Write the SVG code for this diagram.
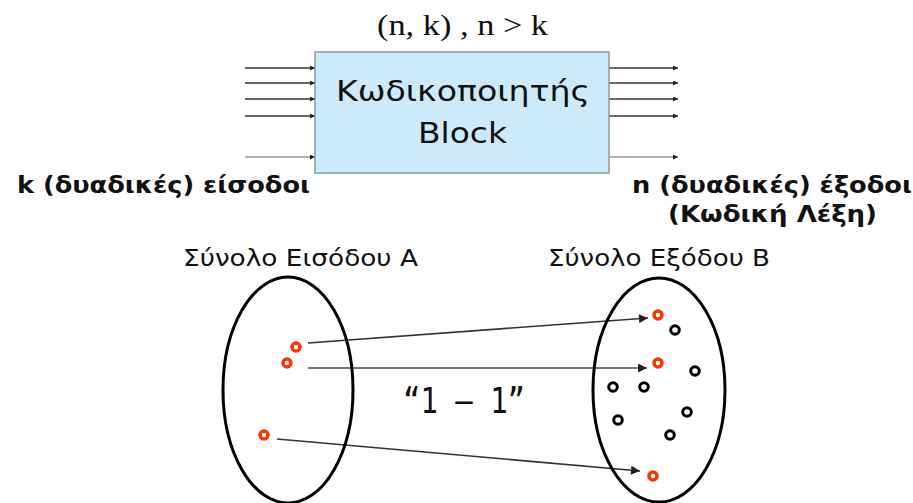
<svg xmlns="http://www.w3.org/2000/svg" width="913" height="503" viewBox="0 0 913 503">
<defs>
<style>
.sans{font-family:"DejaVu Sans","Noto Sans",sans-serif;fill:#111}
.bold{font-family:"DejaVu Sans","Noto Sans",sans-serif;font-weight:bold;fill:#111}
.ln{stroke:#333;stroke-width:1.6;fill:none}
.lg{stroke:#999;stroke-width:1.6;fill:none}
.red{fill:none;stroke:#ff3300;stroke-width:3.5}
.blk{fill:none;stroke:#000;stroke-width:3}
.ell{fill:none;stroke:#000;stroke-width:3}
</style>
<marker id="ah" viewBox="0 0 10 10" refX="10" refY="5" markerWidth="5" markerHeight="5" orient="auto" markerUnits="userSpaceOnUse">
<path d="M0,0 L10,5 L0,10 z" fill="#222"/>
</marker>
<marker id="ah2" viewBox="0 0 10 10" refX="10" refY="5" markerWidth="12" markerHeight="9" orient="auto" markerUnits="userSpaceOnUse">
<path d="M0,0 L10,5 L0,10 z" fill="#222"/>
</marker>
</defs>
<rect width="913" height="503" fill="#fff"/>
<g id="title"><text x="377" y="35" font-family="Liberation Serif,serif" font-size="29" fill="#111" textLength="171" lengthAdjust="spacingAndGlyphs">(n, k) , n &gt; k</text></g>
<g id="connectors">
<line class="ln" x1="245" y1="68" x2="315" y2="68" marker-end="url(#ah)"/>
<line class="ln" x1="245" y1="83" x2="315" y2="83" marker-end="url(#ah)"/>
<line class="ln" x1="245" y1="99" x2="315" y2="99" marker-end="url(#ah)"/>
<line class="ln" x1="245" y1="116" x2="315" y2="116" marker-end="url(#ah)"/>
<line class="lg" x1="245" y1="157" x2="315" y2="157" marker-end="url(#ah)"/>
<line class="ln" x1="609" y1="68" x2="678" y2="68" marker-end="url(#ah)"/>
<line class="ln" x1="609" y1="83" x2="678" y2="83" marker-end="url(#ah)"/>
<line class="ln" x1="609" y1="99" x2="678" y2="99" marker-end="url(#ah)"/>
<line class="ln" x1="609" y1="116" x2="678" y2="116" marker-end="url(#ah)"/>
<line class="lg" x1="609" y1="157" x2="678" y2="157" marker-end="url(#ah)"/>
<line class="ln" x1="308" y1="343" x2="648" y2="318" stroke-width="2" marker-end="url(#ah2)"/>
<line x1="308" y1="368" x2="647" y2="368" stroke="#777" stroke-width="2" marker-end="url(#ah2)"/>
<line class="ln" x1="277" y1="439" x2="640" y2="471" stroke-width="2" marker-end="url(#ah2)"/>
</g>
<g id="encoder">
<rect x="315" y="52" width="294" height="121" fill="#cdeafb" stroke="#8a9aa6" stroke-width="1.5"/>
<text class="sans" x="336" y="101" font-size="29" textLength="254" lengthAdjust="spacingAndGlyphs">Κωδικοποιητής</text>
<text class="sans" x="418" y="143" font-size="29" textLength="89" lengthAdjust="spacingAndGlyphs">Block</text>
</g>
<g id="inputs-label"><text class="bold" x="17" y="193" font-size="23" textLength="293" lengthAdjust="spacingAndGlyphs">k (δυαδικές) είσοδοι</text></g>
<g id="outputs-label">
<text class="bold" x="632" y="193" font-size="23" textLength="280" lengthAdjust="spacingAndGlyphs">n (δυαδικές) έξοδοι</text>
<text class="bold" x="668" y="222" font-size="23" textLength="209" lengthAdjust="spacingAndGlyphs">(Κωδική Λέξη)</text>
</g>
<g id="setA">
<text class="sans" x="183" y="266" font-size="23" textLength="235" lengthAdjust="spacingAndGlyphs">Σύνολο Εισόδου Α</text>
<ellipse class="ell" cx="288" cy="390" rx="65" ry="113"/>
<circle class="red" cx="296" cy="347" r="4"/>
<circle class="red" cx="287" cy="363" r="4"/>
<circle class="red" cx="264" cy="435" r="4"/>
</g>
<g id="setB">
<text class="sans" x="548" y="266" font-size="23" textLength="222" lengthAdjust="spacingAndGlyphs">Σύνολο Εξόδου Β</text>
<ellipse class="ell" cx="659" cy="390" rx="66" ry="112"/>
<circle class="red" cx="658" cy="315" r="4"/>
<circle class="red" cx="658" cy="363" r="4"/>
<circle class="red" cx="653" cy="476" r="4"/>
<circle class="blk" cx="675" cy="330" r="4.3"/>
<circle class="blk" cx="695" cy="371" r="4.3"/>
<circle class="blk" cx="613" cy="387" r="4.3"/>
<circle class="blk" cx="644" cy="387" r="4.3"/>
<circle class="blk" cx="687" cy="412" r="4.3"/>
<circle class="blk" cx="618" cy="420" r="4.3"/>
<circle class="blk" cx="670" cy="435" r="4.3"/>
</g>
<g id="mapping-label"><text x="403" y="413" font-family="DejaVu Sans Mono,monospace" font-size="35" fill="#111" textLength="122" lengthAdjust="spacingAndGlyphs">“1 – 1”</text></g>
</svg>
